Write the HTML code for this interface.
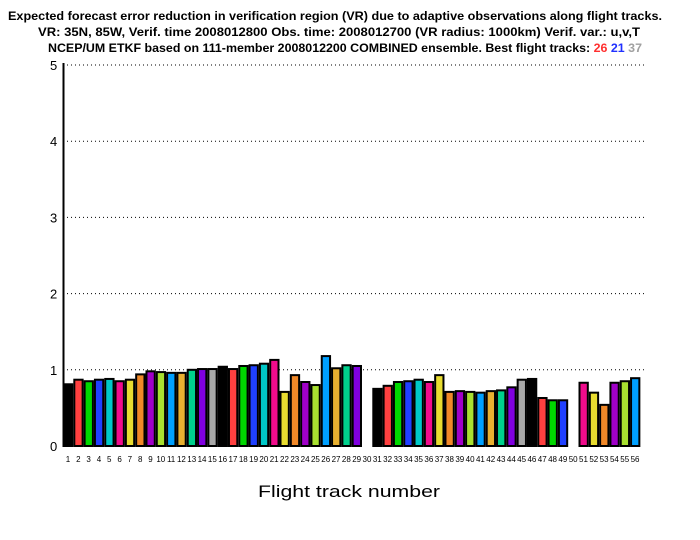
<!DOCTYPE html>
<html><head><meta charset="utf-8"><style>
html,body{margin:0;padding:0;background:#fff;width:700px;height:540px;overflow:hidden}
svg{display:block}
text{font-family:"Liberation Sans",sans-serif;font-weight:bold}
</style></head><body>
<svg id="s" width="700" height="540" xmlns="http://www.w3.org/2000/svg">
<text x="335" y="20" font-size="12" text-anchor="middle" textLength="654" lengthAdjust="spacingAndGlyphs">Expected forecast error reduction in verification region (VR) due to adaptive observations along flight tracks.</text>
<text x="339" y="36" font-size="12" text-anchor="middle" textLength="602" lengthAdjust="spacingAndGlyphs">VR: 35N, 85W, Verif. time 2008012800 Obs. time: 2008012700 (VR radius: 1000km)  Verif. var.: u,v,T</text>
<text x="48" y="52" font-size="12" textLength="594" lengthAdjust="spacingAndGlyphs">NCEP/UM ETKF based on 111-member 2008012200 COMBINED ensemble.  Best flight tracks: <tspan fill="#ff3030">26</tspan> <tspan fill="#2030ff">21</tspan> <tspan fill="#a0a0a0">37</tspan></text>
<text x="349" y="497" font-size="17" text-anchor="middle" style="font-weight:normal" textLength="182" lengthAdjust="spacingAndGlyphs">Flight track number</text>
<g id="g"></g>
</svg>
<script>
var g=document.getElementById('g'),h='';
var y0=446,k=76.2,x0=63,w=10.31;
for(var i=1;i<=5;i++){var y=y0-i*k;h+='<line x1="63" y1="'+y+'" x2="646" y2="'+y+'" stroke="#000" stroke-width="1" stroke-dasharray="1,3"/>';h+='<text x="50" y="'+(y+5)+'" font-size="13" style="font-weight:normal">'+i+'</text>';}
h+='<text x="50" y="451" font-size="13" style="font-weight:normal">0</text>';
var C={k:'#000',r:'#ff4040',g:'#00d800',b:'#2040ff',c:'#00c8c8',m:'#f00c8c',y:'#e8dc30',o:'#f08828',p:'#a000c8',l:'#a8e030',s:'#00a0ff',d:'#e8b030',t:'#00d08c',v:'#8000e0',a:'#a8a8a8'};
var d=[[1,.81,'k'],[2,.87,'r'],[3,.85,'g'],[4,.87,'b'],[5,.88,'c'],[6,.85,'m'],[7,.87,'y'],[8,.94,'o'],[9,.98,'p'],[10,.97,'l'],[11,.96,'s'],[12,.96,'d'],[13,1.0,'t'],[14,1.01,'v'],[15,1.01,'a'],[16,1.04,'k'],[17,1.01,'r'],[18,1.05,'g'],[19,1.06,'b'],[20,1.08,'c'],[21,1.13,'m'],[22,.71,'y'],[23,.93,'o'],[24,.84,'p'],[25,.80,'l'],[26,1.18,'s'],[27,1.02,'d'],[28,1.06,'t'],[29,1.05,'v'],
[31,.75,'k'],[32,.79,'r'],[33,.84,'g'],[34,.85,'b'],[35,.87,'c'],[36,.84,'m'],[37,.93,'y'],[38,.71,'o'],[39,.72,'p'],[40,.71,'l'],[41,.70,'s'],[42,.72,'d'],[43,.73,'t'],[44,.77,'v'],[45,.87,'a'],[46,.88,'k'],[47,.63,'r'],[48,.60,'g'],[49,.60,'b'],
[51,.83,'m'],[52,.70,'y'],[53,.54,'o'],[54,.83,'p'],[55,.85,'l'],[56,.89,'s']];
d.forEach(function(e){var x=x0+(e[0]-1)*w,y=y0-e[1]*k;h+='<rect x="'+(x+1)+'" y="'+y+'" width="'+(w-2)+'" height="'+(y0-y)+'" fill="'+C[e[2]]+'" stroke="#000" stroke-width="2"/>';});
h+='<line x1="63.5" y1="63" x2="63.5" y2="447" stroke="#000" stroke-width="2"/>';
for(var i=1;i<=56;i++){var x=x0+(i-1)*w+5;h+='<text x="'+x+'" y="462" font-size="8" text-anchor="middle" style="font-weight:normal">'+i+'</text>';}
g.innerHTML=h;
</script>
</body></html>
